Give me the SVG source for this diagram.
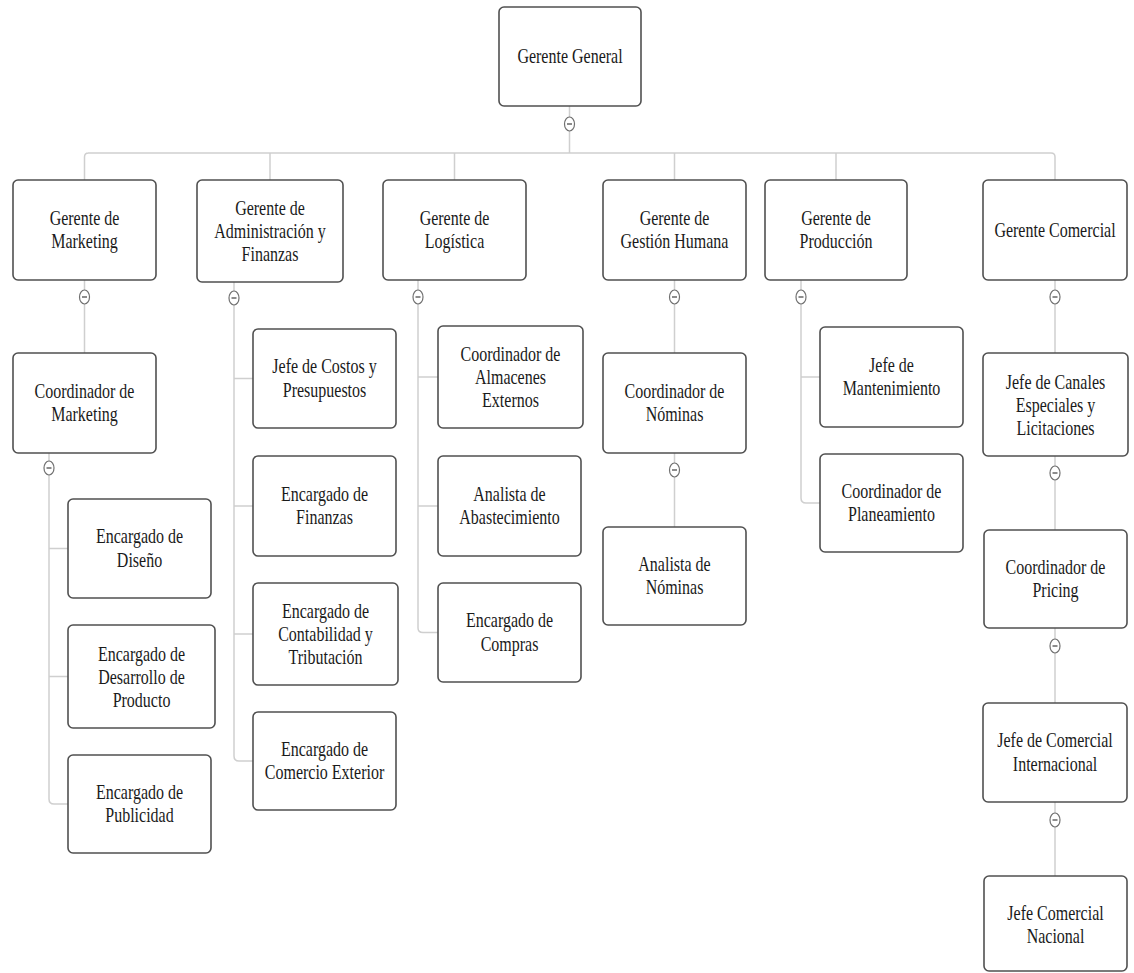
<svg xmlns="http://www.w3.org/2000/svg" width="1134" height="973" viewBox="0 0 1134 973">
<style>
.box{fill:#fff;stroke:#505050;stroke-width:1.6}
.t{font-family:"Liberation Serif","Times New Roman",serif;font-size:16px;fill:#1a1a1a;text-anchor:middle}
.c{fill:none;stroke:#cfcfcf;stroke-width:1.5}
.tg ellipse{fill:#fff;stroke:#707070;stroke-width:1.2}
.tg line{stroke:#707070;stroke-width:1.6}
</style>
<defs>
<g id="tog" class="tg"><ellipse cx="0" cy="0" rx="5" ry="7"/><line x1="-2.5" y1="0" x2="2.5" y2="0"/></g>
</defs>
<rect width="1134" height="973" fill="#fff"/>
<g id="connectors">
<path class="c" d="M569.5 106V153M88 153H1051M84.5 180V157Q84.5 153 88.5 153M1051 153Q1055 153 1055 157V180M270 153V180M454.5 153V180M674.5 153V180M836 153V180"/>
<path class="c" d="M84.5 280V353M49 453V799Q49 804 54 804H68M49 548.5H68M49 676.5H68"/>
<path class="c" d="M234 282V756Q234 761 239 761H253M234 378.5H253M234 506H253M234 634H253"/>
<path class="c" d="M418 280V628Q418 632.5 423 632.5H438M418 377H438M418 506H438"/>
<path class="c" d="M674.5 280V353M674.5 453V527"/>
<path class="c" d="M801 280V498Q801 503 806 503H820M801 377H820"/>
<path class="c" d="M1055 280V353M1055 456V530M1055 628V703M1055 802V876"/>
</g>
<g id="toggles">
<use href="#tog" x="569.5" y="124"/>
<use href="#tog" x="84.5" y="297"/>
<use href="#tog" x="234" y="298"/>
<use href="#tog" x="418" y="297"/>
<use href="#tog" x="674.5" y="297"/>
<use href="#tog" x="801" y="297"/>
<use href="#tog" x="1055" y="297"/>
<use href="#tog" x="49" y="468"/>
<use href="#tog" x="674.5" y="470"/>
<use href="#tog" x="1055" y="473"/>
<use href="#tog" x="1055" y="646"/>
<use href="#tog" x="1055" y="820"/>
</g>
<g id="n-root"><rect class="box" x="499" y="7" width="142" height="99" rx="5"/><text class="t" transform="translate(570,56.5) scale(1,1.3)"><tspan x="0" y="5">Gerente General</tspan></text></g>
<g id="n-mkt"><rect class="box" x="13" y="180" width="143" height="100" rx="5"/><text class="t" transform="translate(84.5,230) scale(1,1.3)"><tspan x="0" y="-4.23">Gerente de</tspan><tspan x="0" y="13.85">Marketing</tspan></text></g>
<g id="n-adm"><rect class="box" x="197" y="180" width="146" height="102" rx="5"/><text class="t" transform="translate(270,231) scale(1,1.3)"><tspan x="0" y="-12.3">Gerente de</tspan><tspan x="0" y="5.38">Administración y</tspan><tspan x="0" y="23.08">Finanzas</tspan></text></g>
<g id="n-log"><rect class="box" x="383" y="180" width="143" height="100" rx="5"/><text class="t" transform="translate(454.5,230) scale(1,1.3)"><tspan x="0" y="-4.23">Gerente de</tspan><tspan x="0" y="13.85">Logística</tspan></text></g>
<g id="n-gh"><rect class="box" x="603" y="180" width="143" height="100" rx="5"/><text class="t" transform="translate(674.5,230) scale(1,1.3)"><tspan x="0" y="-4.23">Gerente de</tspan><tspan x="0" y="13.85">Gestión Humana</tspan></text></g>
<g id="n-prod"><rect class="box" x="765" y="180" width="142" height="100" rx="5"/><text class="t" transform="translate(836,230) scale(1,1.3)"><tspan x="0" y="-4.23">Gerente de</tspan><tspan x="0" y="13.85">Producción</tspan></text></g>
<g id="n-com"><rect class="box" x="983" y="180" width="144" height="100" rx="5"/><text class="t" transform="translate(1055,230) scale(1,1.3)"><tspan x="0" y="5">Gerente Comercial</tspan></text></g>
<g id="n-coordmkt"><rect class="box" x="13" y="353" width="143" height="100" rx="5"/><text class="t" transform="translate(84.5,403) scale(1,1.3)"><tspan x="0" y="-4.23">Coordinador de</tspan><tspan x="0" y="13.85">Marketing</tspan></text></g>
<g id="n-diseno"><rect class="box" x="68" y="499" width="143" height="99" rx="5"/><text class="t" transform="translate(139.5,548.5) scale(1,1.3)"><tspan x="0" y="-4.23">Encargado de</tspan><tspan x="0" y="13.85">Diseño</tspan></text></g>
<g id="n-desarrollo"><rect class="box" x="68" y="625" width="147" height="103" rx="5"/><text class="t" transform="translate(141.5,676.5) scale(1,1.3)"><tspan x="0" y="-12.3">Encargado de</tspan><tspan x="0" y="5.38">Desarrollo de</tspan><tspan x="0" y="23.08">Producto</tspan></text></g>
<g id="n-publicidad"><rect class="box" x="68" y="755" width="143" height="98" rx="5"/><text class="t" transform="translate(139.5,804) scale(1,1.3)"><tspan x="0" y="-4.23">Encargado de</tspan><tspan x="0" y="13.85">Publicidad</tspan></text></g>
<g id="n-costos"><rect class="box" x="253" y="329" width="143" height="99" rx="5"/><text class="t" transform="translate(324.5,378.5) scale(1,1.3)"><tspan x="0" y="-4.23">Jefe de Costos y</tspan><tspan x="0" y="13.85">Presupuestos</tspan></text></g>
<g id="n-finanzas"><rect class="box" x="253" y="456" width="143" height="100" rx="5"/><text class="t" transform="translate(324.5,506) scale(1,1.3)"><tspan x="0" y="-4.23">Encargado de</tspan><tspan x="0" y="13.85">Finanzas</tspan></text></g>
<g id="n-contab"><rect class="box" x="253" y="583" width="145" height="102" rx="5"/><text class="t" transform="translate(325.5,634) scale(1,1.3)"><tspan x="0" y="-12.3">Encargado de</tspan><tspan x="0" y="5.38">Contabilidad y</tspan><tspan x="0" y="23.08">Tributación</tspan></text></g>
<g id="n-comext"><rect class="box" x="253" y="712" width="143" height="98" rx="5"/><text class="t" transform="translate(324.5,761) scale(1,1.3)"><tspan x="0" y="-4.23">Encargado de</tspan><tspan x="0" y="13.85">Comercio Exterior</tspan></text></g>
<g id="n-almacenes"><rect class="box" x="438" y="326" width="145" height="102" rx="5"/><text class="t" transform="translate(510.5,377) scale(1,1.3)"><tspan x="0" y="-12.3">Coordinador de</tspan><tspan x="0" y="5.38">Almacenes</tspan><tspan x="0" y="23.08">Externos</tspan></text></g>
<g id="n-abast"><rect class="box" x="438" y="456" width="143" height="100" rx="5"/><text class="t" transform="translate(509.5,506) scale(1,1.3)"><tspan x="0" y="-4.23">Analista de</tspan><tspan x="0" y="13.85">Abastecimiento</tspan></text></g>
<g id="n-compras"><rect class="box" x="438" y="583" width="143" height="99" rx="5"/><text class="t" transform="translate(509.5,632.5) scale(1,1.3)"><tspan x="0" y="-4.23">Encargado de</tspan><tspan x="0" y="13.85">Compras</tspan></text></g>
<g id="n-coordnom"><rect class="box" x="603" y="353" width="143" height="100" rx="5"/><text class="t" transform="translate(674.5,403) scale(1,1.3)"><tspan x="0" y="-4.23">Coordinador de</tspan><tspan x="0" y="13.85">Nóminas</tspan></text></g>
<g id="n-analistanom"><rect class="box" x="603" y="527" width="143" height="98" rx="5"/><text class="t" transform="translate(674.5,576) scale(1,1.3)"><tspan x="0" y="-4.23">Analista de</tspan><tspan x="0" y="13.85">Nóminas</tspan></text></g>
<g id="n-mant"><rect class="box" x="820" y="327" width="143" height="100" rx="5"/><text class="t" transform="translate(891.5,377) scale(1,1.3)"><tspan x="0" y="-4.23">Jefe de</tspan><tspan x="0" y="13.85">Mantenimiento</tspan></text></g>
<g id="n-plan"><rect class="box" x="820" y="454" width="143" height="98" rx="5"/><text class="t" transform="translate(891.5,503) scale(1,1.3)"><tspan x="0" y="-4.23">Coordinador de</tspan><tspan x="0" y="13.85">Planeamiento</tspan></text></g>
<g id="n-canales"><rect class="box" x="983" y="353" width="145" height="103" rx="5"/><text class="t" transform="translate(1055.5,404.5) scale(1,1.3)"><tspan x="0" y="-12.3">Jefe de Canales</tspan><tspan x="0" y="5.38">Especiales y</tspan><tspan x="0" y="23.08">Licitaciones</tspan></text></g>
<g id="n-pricing"><rect class="box" x="984" y="530" width="143" height="98" rx="5"/><text class="t" transform="translate(1055.5,579) scale(1,1.3)"><tspan x="0" y="-4.23">Coordinador de</tspan><tspan x="0" y="13.85">Pricing</tspan></text></g>
<g id="n-internacional"><rect class="box" x="983" y="703" width="144" height="99" rx="5"/><text class="t" transform="translate(1055,752.5) scale(1,1.3)"><tspan x="0" y="-4.23">Jefe de Comercial</tspan><tspan x="0" y="13.85">Internacional</tspan></text></g>
<g id="n-nacional"><rect class="box" x="984" y="876" width="143" height="95" rx="5"/><text class="t" transform="translate(1055.5,925) scale(1,1.3)"><tspan x="0" y="-4.23">Jefe Comercial</tspan><tspan x="0" y="13.85">Nacional</tspan></text></g>
</svg>
